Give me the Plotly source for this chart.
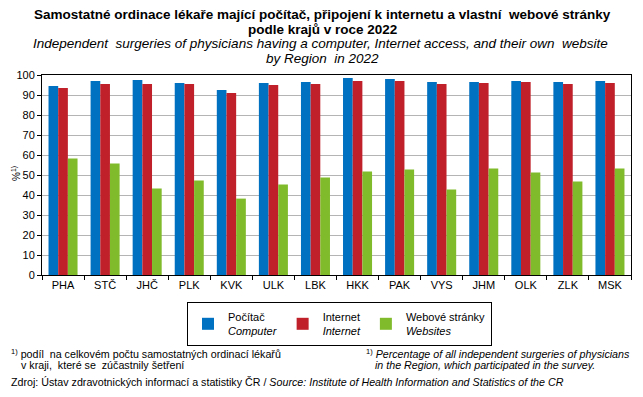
import plotly.graph_objects as go

regions = ["PHA", "STČ", "JHČ", "PLK", "KVK", "ULK", "LBK", "HKK", "PAK", "VYS", "JHM", "OLK", "ZLK", "MSK"]
computer = [94.5, 97.0, 97.5, 96.0, 92.5, 96.0, 96.5, 98.5, 98.0, 96.5, 96.5, 97.0, 96.5, 97.0]
internet = [93.5, 95.5, 95.5, 95.5, 91.0, 95.0, 95.5, 97.0, 97.0, 95.5, 96.0, 96.5, 95.5, 96.0]
websites = [58.3, 55.8, 43.2, 47.2, 38.2, 45.2, 48.7, 51.8, 52.8, 42.7, 53.3, 51.3, 46.7, 53.3]
series_names = ["Počítač<br><i>Computer</i>", "Internet<br><i>Internet</i>", "Webové stránky<br><i>Websites</i>"]
colors = ["#0070c0", "#c0202a", "#80bb2c"]
y_ticks = [0, 10, 20, 30, 40, 50, 60, 70, 80, 90, 100]

# page has an 8px body margin; design in page pixels and convert
OFF = 8
W, H = 643 - 2 * OFF, 397 - 2 * OFF
PLOT_L, PLOT_R, PLOT_T, PLOT_B = 42, 631, 75, 275  # page pixels
L = PLOT_L - OFF
R = W - (PLOT_R - OFF)
T = PLOT_T - OFF
B = H - (PLOT_B - OFF)
PW, PH = W - L - R, H - T - B


def px(x):
    return (x - OFF - L) / PW


def py(y):
    return (H - B - (y - OFF)) / PH


fig = go.Figure()
for name, vals, col in zip(series_names, [computer, internet, websites], colors):
    fig.add_trace(go.Bar(x=regions, y=vals, name=name, marker=dict(color=col, line=dict(width=0))))

font_main = "Liberation Sans, Arial, sans-serif"
font_narrow = "Liberation Sans Narrow, Arial Narrow, Liberation Sans, sans-serif"

fig.update_layout(
    width=W, height=H,
    margin=dict(l=L, r=R, t=T, b=B, autoexpand=False),
    paper_bgcolor="white", plot_bgcolor="white",
    barmode="group", bargap=0.31, bargroupgap=0,
    font=dict(family=font_main, size=11, color="black"),
    showlegend=True,
    legend=dict(
        orientation="h", x=px(187), y=py(302), xanchor="left", yanchor="top",
        bordercolor="black", borderwidth=1, bgcolor="white",
        font=dict(family=font_main, size=11), itemwidth=30, tracegroupgap=0,
    ),
    xaxis=dict(
        showline=True, linecolor="black", linewidth=1, mirror=True,
        ticks="outside", tickson="boundaries", ticklen=4, tickcolor="black",
        tickfont=dict(size=11), showgrid=False, automargin=False,
    ),
    yaxis=dict(
        range=[0, 100], tickvals=y_ticks, showline=True, linecolor="black", linewidth=1,
        mirror=True, ticks="outside", ticklen=4, tickcolor="black",
        showgrid=True, gridcolor="#b4b4b4", gridwidth=1, tickfont=dict(size=11),
        zeroline=False, automargin=False,
    ),
)

anns = [
    dict(text="<b>Samostatné ordinace lékaře mající počítač, připojení k internetu a vlastní  webové stránky</b>",
         x=322, y=15, size=13.5, family=font_narrow, xanchor="center"),
    dict(text="<b>podle krajů v roce 2022</b>", x=322, y=29, size=13.5, family=font_narrow, xanchor="center"),
    dict(text="<i>Independent  surgeries of physicians having a computer, Internet access, and their own  website</i>",
         x=320, y=44, size=13.5, family=font_narrow, xanchor="center"),
    dict(text="<i>by Region  in 2022</i>", x=322, y=59, size=13.5, family=font_narrow, xanchor="center"),
    dict(text="<sup>1)</sup> podíl  na celkovém počtu samostatných ordinací lékařů",
         x=9, y=353, size=10.7, family=font_narrow, xanchor="left"),
    dict(text="v kraji,  které se  zúčastnily šetření",
         x=19, y=365, size=10.7, family=font_narrow, xanchor="left"),
    dict(text="<sup>1)</sup> <i>Percentage of all independent surgeries of physicians</i>",
         x=364, y=353, size=10.7, family=font_narrow, xanchor="left"),
    dict(text="<i>in the Region, which participated in the survey.</i>",
         x=373, y=365, size=10.7, family=font_narrow, xanchor="left"),
    dict(text="Zdroj: Ústav zdravotnických informací a statistiky ČR / <i>Source: Institute of Health Information and Statistics of the CR</i>",
         x=9, y=382, size=10.7, family=font_narrow, xanchor="left"),
]
for a in anns:
    fig.add_annotation(text=a["text"], x=px(a["x"]), y=py(a["y"]), xref="paper", yref="paper",
                       xanchor=a["xanchor"], yanchor="middle", showarrow=False,
                       font=dict(family=a["family"], size=a["size"], color="black"))

# y-axis title
fig.add_annotation(text="%<sup>1)</sup>", x=px(16), y=py(174), xref="paper", yref="paper",
                   xanchor="center", yanchor="middle", textangle=-90, showarrow=False,
                   font=dict(family=font_main, size=10, color="black"))

fig.write_html("out.html")
